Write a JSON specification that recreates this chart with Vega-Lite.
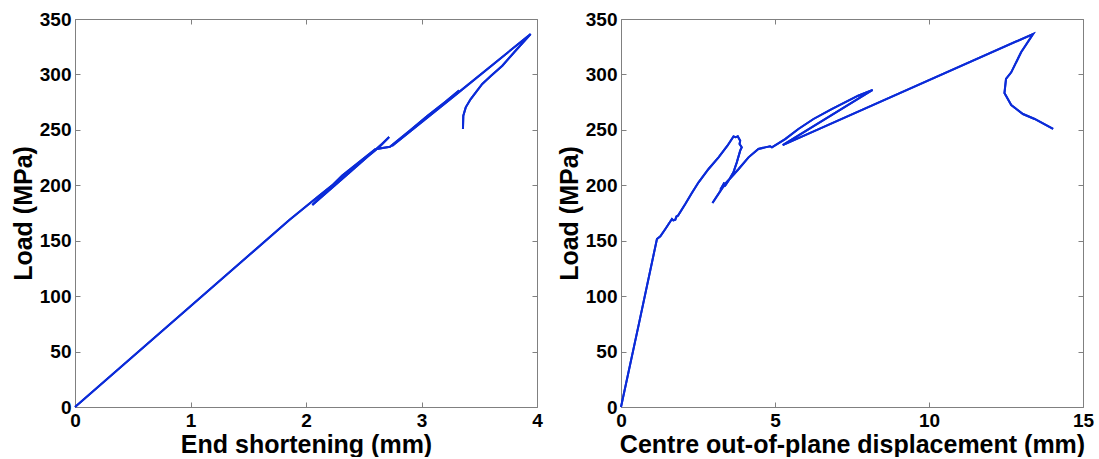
{
  "$schema": "https://vega.github.io/schema/vega-lite/v6.json",
  "padding": {"left": 11, "top": 10, "right": 5, "bottom": 0},
  "background": "#ffffff",
  "datasets": {
    "left": [
      {"i": 0, "x": 0, "y": 0},
      {"i": 1, "x": 1.0, "y": 90.8},
      {"i": 2, "x": 1.853, "y": 168.5},
      {"i": 3, "x": 2.1, "y": 189.5},
      {"i": 4, "x": 2.4, "y": 214.5},
      {"i": 5, "x": 2.632, "y": 234.2},
      {"i": 6, "x": 2.72, "y": 243.5},
      {"i": 7, "x": 2.66, "y": 237.5},
      {"i": 8, "x": 2.35, "y": 209},
      {"i": 9, "x": 2.055, "y": 182.2},
      {"i": 10, "x": 2.314, "y": 208.9},
      {"i": 11, "x": 2.6, "y": 232.5},
      {"i": 12, "x": 2.727, "y": 234.8},
      {"i": 13, "x": 2.9, "y": 249.5},
      {"i": 14, "x": 3.05, "y": 262.5},
      {"i": 15, "x": 3.238, "y": 277.8},
      {"i": 16, "x": 3.325, "y": 285.5},
      {"i": 17, "x": 3.1, "y": 266},
      {"i": 18, "x": 2.745, "y": 235.5},
      {"i": 19, "x": 3.3, "y": 282},
      {"i": 20, "x": 3.945, "y": 336.5},
      {"i": 21, "x": 3.82, "y": 322},
      {"i": 22, "x": 3.7, "y": 307.9},
      {"i": 23, "x": 3.6, "y": 298.5},
      {"i": 24, "x": 3.526, "y": 291.4},
      {"i": 25, "x": 3.426, "y": 277.8},
      {"i": 26, "x": 3.383, "y": 270.3},
      {"i": 27, "x": 3.362, "y": 262.8},
      {"i": 28, "x": 3.359, "y": 250.8}
    ],
    "right": [
      {"i": 0, "x": 0, "y": 0},
      {"i": 1, "x": 0.6, "y": 77.5},
      {"i": 2, "x": 1.167, "y": 151.5},
      {"i": 3, "x": 1.277, "y": 154},
      {"i": 4, "x": 1.44, "y": 160.6},
      {"i": 5, "x": 1.546, "y": 165.1},
      {"i": 6, "x": 1.654, "y": 169.6},
      {"i": 7, "x": 1.7, "y": 168.3},
      {"i": 8, "x": 1.763, "y": 169},
      {"i": 9, "x": 1.8, "y": 171.8},
      {"i": 10, "x": 1.848, "y": 172.6},
      {"i": 11, "x": 2.087, "y": 183.1},
      {"i": 12, "x": 2.3, "y": 193},
      {"i": 13, "x": 2.519, "y": 202.7},
      {"i": 14, "x": 2.843, "y": 214.7},
      {"i": 15, "x": 3.167, "y": 225.2},
      {"i": 16, "x": 3.45, "y": 235.5},
      {"i": 17, "x": 3.653, "y": 244},
      {"i": 18, "x": 3.72, "y": 243.3},
      {"i": 19, "x": 3.79, "y": 244.2},
      {"i": 20, "x": 3.87, "y": 240.2},
      {"i": 21, "x": 3.85, "y": 237.2},
      {"i": 22, "x": 3.92, "y": 234.3},
      {"i": 23, "x": 3.87, "y": 231.2},
      {"i": 24, "x": 3.76, "y": 220.7},
      {"i": 25, "x": 3.65, "y": 211.7},
      {"i": 26, "x": 3.49, "y": 204.1},
      {"i": 27, "x": 3.38, "y": 199.6},
      {"i": 28, "x": 3.27, "y": 198.2},
      {"i": 29, "x": 3.36, "y": 202.5},
      {"i": 30, "x": 3.25, "y": 196},
      {"i": 31, "x": 2.97, "y": 184},
      {"i": 32, "x": 3.38, "y": 201.2},
      {"i": 33, "x": 3.82, "y": 214.7},
      {"i": 34, "x": 4.14, "y": 225.2},
      {"i": 35, "x": 4.46, "y": 232.7},
      {"i": 36, "x": 4.68, "y": 234.2},
      {"i": 37, "x": 4.84, "y": 235.2},
      {"i": 38, "x": 4.9, "y": 234.2},
      {"i": 39, "x": 5.33, "y": 241.7},
      {"i": 40, "x": 5.76, "y": 250.8},
      {"i": 41, "x": 6.25, "y": 259.8},
      {"i": 42, "x": 6.84, "y": 268.8},
      {"i": 43, "x": 7.7, "y": 280.8},
      {"i": 44, "x": 8.17, "y": 286},
      {"i": 45, "x": 5.25, "y": 236.3},
      {"i": 46, "x": 13.38, "y": 336.5},
      {"i": 47, "x": 12.99, "y": 320},
      {"i": 48, "x": 12.67, "y": 301.9},
      {"i": 49, "x": 12.5, "y": 295.9},
      {"i": 50, "x": 12.45, "y": 283.2},
      {"i": 51, "x": 12.67, "y": 272.4},
      {"i": 52, "x": 13.05, "y": 264.3},
      {"i": 53, "x": 13.43, "y": 259.8},
      {"i": 54, "x": 14.03, "y": 250.8}
    ]
  },
  "hconcat": [
    {
      "width": 462,
      "height": 388,
      "data": {"name": "left"},
      "layer": [
        {
          "mark": {"type": "line", "color": "#0b2bd8", "strokeWidth": 2},
          "encoding": {
            "x": {"field": "x", "type": "quantitative", "scale": {"domain": [0, 4], "nice": false, "zero": false},
                  "axis": {"orient": "bottom", "title": "End shortening (mm)", "values": [0, 1, 2, 3, 4]}},
            "y": {"field": "y", "type": "quantitative", "scale": {"domain": [0, 350], "nice": false, "zero": false},
                  "axis": {"orient": "left", "title": "Load (MPa)", "values": [0, 50, 100, 150, 200, 250, 300, 350]}},
            "order": {"field": "i", "type": "quantitative"}
          }
        },
        {
          "mark": {"type": "line", "color": "#0b2bd8", "strokeWidth": 2},
          "encoding": {
            "x": {"field": "x", "type": "quantitative", "scale": {"domain": [0, 4], "nice": false, "zero": false},
                  "axis": {"orient": "top", "title": null, "labels": false, "values": [0, 1, 2, 3, 4]}},
            "y": {"field": "y", "type": "quantitative", "scale": {"domain": [0, 350], "nice": false, "zero": false},
                  "axis": {"orient": "right", "title": null, "labels": false, "values": [0, 50, 100, 150, 200, 250, 300, 350]}},
            "order": {"field": "i", "type": "quantitative"}
          }
        }
      ],
      "resolve": {"axis": {"x": "independent", "y": "independent"}}
    },
    {
      "width": 462,
      "height": 388,
      "data": {"name": "right"},
      "layer": [
        {
          "mark": {"type": "line", "color": "#0b2bd8", "strokeWidth": 2},
          "encoding": {
            "x": {"field": "x", "type": "quantitative", "scale": {"domain": [0, 15], "nice": false, "zero": false},
                  "axis": {"orient": "bottom", "title": "Centre out-of-plane displacement (mm)", "values": [0, 5, 10, 15]}},
            "y": {"field": "y", "type": "quantitative", "scale": {"domain": [0, 350], "nice": false, "zero": false},
                  "axis": {"orient": "left", "title": "Load (MPa)", "values": [0, 50, 100, 150, 200, 250, 300, 350]}},
            "order": {"field": "i", "type": "quantitative"}
          }
        },
        {
          "mark": {"type": "line", "color": "#0b2bd8", "strokeWidth": 2},
          "encoding": {
            "x": {"field": "x", "type": "quantitative", "scale": {"domain": [0, 15], "nice": false, "zero": false},
                  "axis": {"orient": "top", "title": null, "labels": false, "values": [0, 5, 10, 15]}},
            "y": {"field": "y", "type": "quantitative", "scale": {"domain": [0, 350], "nice": false, "zero": false},
                  "axis": {"orient": "right", "title": null, "labels": false, "values": [0, 50, 100, 150, 200, 250, 300, 350]}},
            "order": {"field": "i", "type": "quantitative"}
          }
        }
      ],
      "resolve": {"axis": {"x": "independent", "y": "independent"}}
    }
  ],
  "spacing": 84,
  "bounds": "flush",
  "config": {
    "view": {"stroke": null},
    "axis": {
      "grid": false,
      "domainColor": "#808080",
      "domainWidth": 1,
      "tickColor": "#808080",
      "tickSize": -5,
      "tickWidth": 1,
      "labelFont": "Liberation Sans",
      "labelFontSize": 19,
      "labelFontWeight": "bold",
      "labelColor": "#000000",
      "labelPadding": 9,
      "labelFlush": false,
      "labelOverlap": false,
      "titleFont": "Liberation Sans",
      "titleFontSize": 25,
      "titleFontWeight": "bold",
      "titleColor": "#000000"
    },
    "axisX": {"titlePadding": 2},
    "axisY": {"titlePadding": 3}
  }
}
